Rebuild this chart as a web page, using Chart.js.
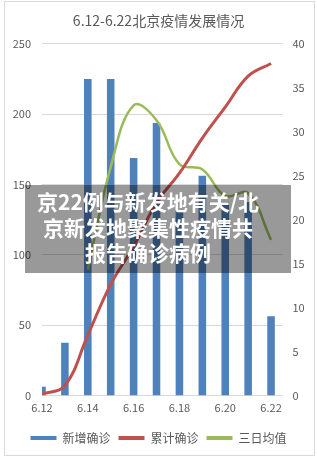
<!DOCTYPE html>
<html lang="zh">
<head>
    <meta charset="UTF-8">
    <title>6.12-6.22北京疫情发展情况</title>
    <script src="https://cdn.jsdelivr.net/npm/chart.js"></script>
    <style>
        body {
            margin: 0;
            background: #ffffff;
        }
        .card {
            position: absolute;
            left: 4px;
            top: 1px;
            width: 311px;
            height: 455px;
            box-sizing: border-box;
            border: 1px solid #d9d9d9;
        }
        .wrap {
            position: absolute;
            left: 0;
            top: 0;
            width: 317px;
            height: 461px;
        }
        .banner {
            position: absolute;
            left: 25px;
            top: 185px;
            width: 266px;
            height: 88px;
            box-sizing: border-box;
            padding: 4px 20px 0 0;
            background: rgba(0, 0, 0, 0.4);
            color: #ffffff;
            font-family: "Noto Sans CJK SC", sans-serif;
            font-weight: bold;
            font-size: 21px;
            line-height: 25.5px;
            text-align: center;
            white-space: nowrap;
        }
    </style>
</head>
<body>
    <div class="card"></div>
    <div class="wrap">
        <canvas id="chart"></canvas>
    </div>
    <div class="banner">京22例与新发地有关/北<br>京新发地聚集性疫情共<br>报告确诊病例</div>

    <script>
        // data
        const days = ['6.12', '6.13', '6.14', '6.15', '6.16', '6.17', '6.18', '6.19', '6.20', '6.21', '6.22'];
        const newCases = [1, 6, 36, 36, 27, 31, 21, 25, 22, 22, 9];
        const totalCases = [1, 7, 43, 79, 106, 137, 158, 183, 205, 227, 236];
        const avg3 = [null, null, 14.3, 26, 33, 31.3, 26.3, 25.7, 22.7, 23, 17.7];
        const seriesNames = ['新增确诊', '累计确诊', '三日均值'];

        const grey = '#595959';
        Chart.defaults.font.family = "'Noto Sans CJK SC', sans-serif";
        Chart.defaults.color = grey;

        function points(arr) {
            return arr.map((v, i) => ({ x: i, y: v }));
        }

        new Chart(document.getElementById('chart'), {
            type: 'bar',
            data: {
                datasets: [{
                    label: seriesNames[0],
                    data: points(newCases),
                    backgroundColor: '#4f81bd',
                    borderColor: '#4f81bd',
                    yAxisID: 'y1',
                    barPercentage: 0.33,
                    categoryPercentage: 1,
                    clip: 0,
                    order: 3
                }, {
                    type: 'line',
                    label: seriesNames[1],
                    data: points(totalCases),
                    borderColor: '#c0504d',
                    backgroundColor: '#c0504d',
                    borderWidth: 3,
                    pointRadius: 0,
                    tension: 0.4,
                    yAxisID: 'y',
                    order: 1
                }, {
                    type: 'line',
                    label: seriesNames[2],
                    data: points(avg3),
                    borderColor: '#9bbb59',
                    backgroundColor: '#9bbb59',
                    borderWidth: 2.5,
                    pointRadius: 0,
                    tension: 0.4,
                    yAxisID: 'y1',
                    order: 2
                }]
            },
            options: {
                responsive: true,
                maintainAspectRatio: false,
                animation: false,
                layout: { padding: { left: 0, right: 0, top: 0, bottom: 7 } },
                plugins: {
                    title: {
                        display: true,
                        text: '6.12-6.22北京疫情发展情况',
                        color: grey,
                        font: { size: 14, weight: 'normal' },
                        padding: { top: 12, bottom: 15 }
                    },
                    legend: {
                        position: 'bottom',
                        labels: {
                            boxWidth: 26,
                            boxHeight: 4,
                            padding: 8,
                            color: grey,
                            font: { size: 12 },
                            generateLabels: (chart) => chart.data.datasets.map((ds, i) => ({
                                text: ds.label,
                                fillStyle: ds.borderColor,
                                strokeStyle: ds.borderColor,
                                lineWidth: 0,
                                fontColor: grey,
                                hidden: false,
                                datasetIndex: i
                            }))
                        }
                    },
                    tooltip: { enabled: false }
                },
                scales: {
                    x: {
                        type: 'linear',
                        position: 'bottom',
                        min: 0,
                        max: 10.5,
                        offset: false,
                        grid: { display: false, drawTicks: false },
                        border: { display: false },
                        ticks: {
                            stepSize: 2,
                            includeBounds: false,
                            padding: 6,
                            font: { size: 11 },
                            color: grey,
                            maxRotation: 0,
                            callback: (v) => Number.isInteger(v) ? days[v] : ''
                        },
                        afterFit: (s) => { s.height = 28.5; }
                    },
                    y: {
                        position: 'left',
                        min: 0,
                        max: 250,
                        grid: { color: '#d9d9d9', drawTicks: false },
                        border: { display: false },
                        ticks: { stepSize: 50, padding: 11, font: { size: 11 }, color: grey },
                        afterFit: (s) => { s.width = 42; }
                    },
                    y1: {
                        position: 'right',
                        min: 0,
                        max: 40,
                        grid: { display: false, drawTicks: false },
                        border: { display: false },
                        ticks: { stepSize: 5, padding: 10, font: { size: 11 }, color: grey },
                        afterFit: (s) => { s.width = 34.5; }
                    }
                }
            }
        });
    </script>
</body>
</html>
